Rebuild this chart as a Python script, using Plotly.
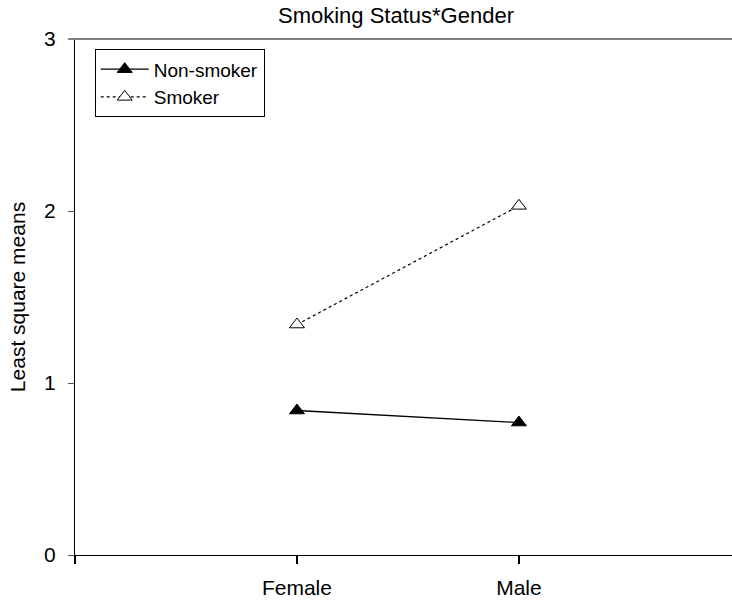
import plotly.graph_objects as go

# Least square means by gender for each smoking status
genders = ["Female", "Male"]
gender_pos = [1, 2]
non_smoker = [0.84, 0.77]
smoker = [1.34, 2.03]
y_ticks = [0, 1, 2, 3]

FONT = "Liberation Sans, Arial, sans-serif"

fig = go.Figure()

fig.add_trace(go.Scatter(
    x=gender_pos, y=non_smoker, name="Non-smoker", mode="lines+markers",
    line=dict(color="black", width=1.3),
    marker=dict(symbol="triangle-up", size=13, color="black",
                line=dict(color="black", width=1)),
))
fig.add_trace(go.Scatter(
    x=gender_pos, y=smoker, name="Smoker", mode="lines+markers",
    line=dict(color="black", width=1.2, dash="dot"),
    marker=dict(symbol="triangle-up", size=13, color="white",
                line=dict(color="black", width=1)),
))

# grey frame line along the top of the plotting area
fig.add_shape(type="line", xref="x domain", yref="y domain",
              x0=-0.01, x1=1, y0=1, y1=1,
              line=dict(color="#808080", width=2.2), layer="above")

fig.update_layout(
    width=732, height=601,
    margin=dict(l=75, r=0, t=39, b=46),
    paper_bgcolor="white", plot_bgcolor="white",
    font=dict(family=FONT, color="black", size=21),
    title=dict(text="Smoking Status*Gender", x=396 / 732, xanchor="center",
               y=1 - 15 / 601, yanchor="middle", xref="container",
               font=dict(size=22, family=FONT, color="black")),
    showlegend=True,
    legend=dict(x=0.03, y=0.98, xanchor="left", yanchor="top",
                bordercolor="black", borderwidth=1, bgcolor="white",
                font=dict(size=19, family=FONT, color="black"),
                tracegroupgap=0, itemwidth=48),
)

fig.update_xaxes(
    range=[0, 2.96], tickvals=[0] + gender_pos, ticktext=[""] + genders,
    showgrid=False, zeroline=False,
    showline=True, linecolor="black", linewidth=1.2,
    ticks="outside", ticklen=8, tickwidth=2, tickcolor="black",
    ticklabelstandoff=6, tickfont=dict(size=21, family=FONT, color="black"),
)
fig.update_yaxes(
    range=[0, 3], tickvals=y_ticks,
    showgrid=False, zeroline=False,
    showline=True, linecolor="black", linewidth=1.2,
    ticks="outside", ticklen=6, tickwidth=1, tickcolor="#555555",
    ticklabelstandoff=8, tickfont=dict(size=21, family=FONT, color="black"),
    title=dict(text="Least square means", standoff=12,
               font=dict(size=21, family=FONT, color="black")),
)

fig.write_html("out.html")
